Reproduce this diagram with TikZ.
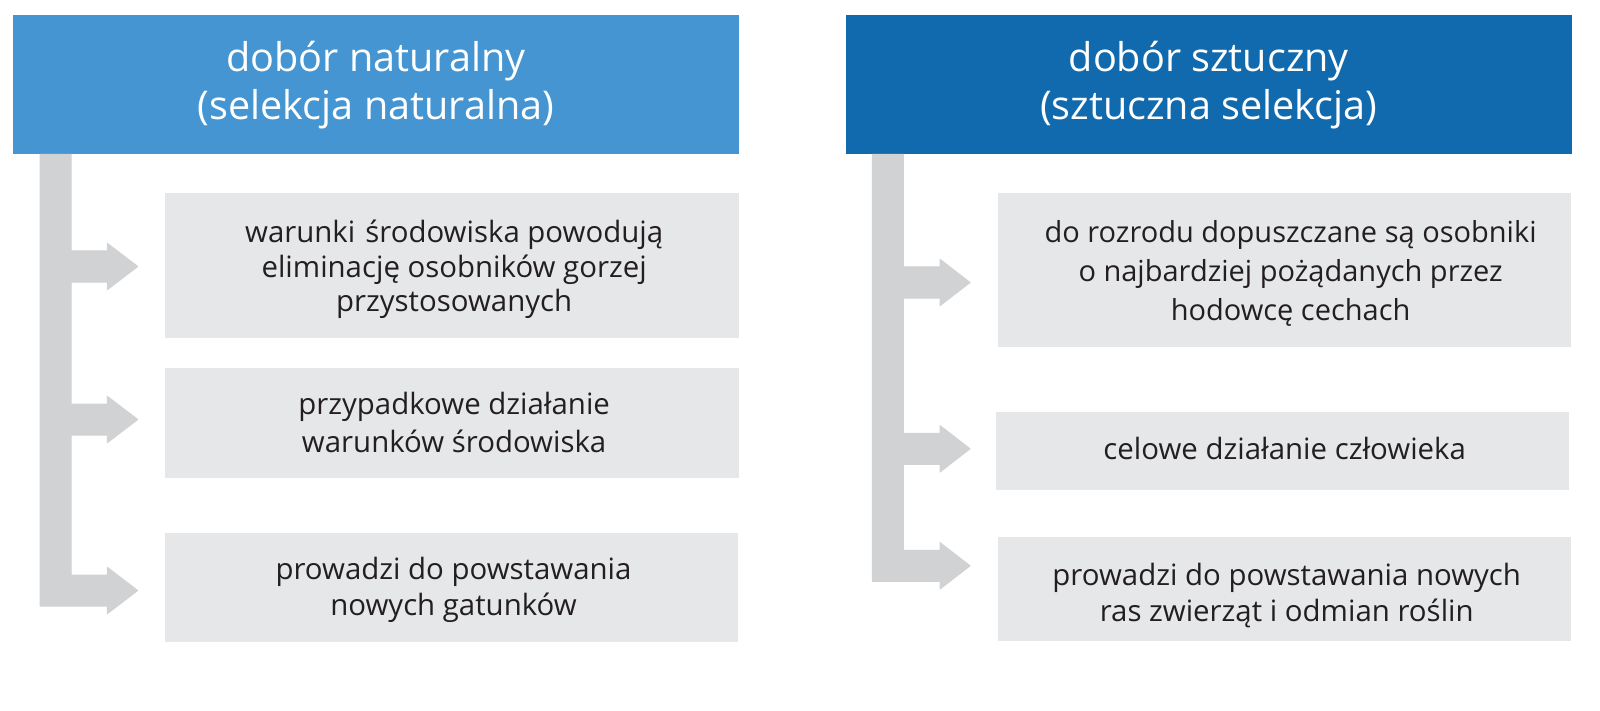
\documentclass[tikz,border=0pt]{standalone}
\usepackage{fontspec}
\setmainfont{Open Sans}
\definecolor{hdrA}{HTML}{4495D1}
\definecolor{hdrB}{HTML}{116AAD}
\definecolor{boxgray}{HTML}{E6E7E9}
\definecolor{arrgray}{HTML}{D1D2D4}
\definecolor{txt}{HTML}{231F20}
\begin{document}
\begin{tikzpicture}[x=0.5pt,y=-0.5pt,
  hdr/.style={inner sep=0pt,align=center,text=white,minimum width=362.75pt,minimum height=69.75pt,
    font=\fontsize{19.8pt}{24pt}\selectfont},
  itembox/.style={fill=boxgray,inner sep=0pt,minimum width=286.7pt},
  itemtext/.style={inner sep=0pt,align=center,text=txt,xshift=1pt},
  bracket/.style={fill=arrgray,draw=arrgray,line width=0.5pt,line join=round}]
\useasboundingbox (0,0) rectangle (1600,711);
\fill[white] (0,0) rectangle (1600,711);
% headers
\node[hdr,fill=hdrA] (hl) at (376,84.75) {dobór naturalny\\(selekcja naturalna)};
\node[hdr,fill=hdrB] (hr) at (1208.8,84.75) {dobór sztuczny\\(sztuczna selekcja)};
% left boxes
\node[itembox,minimum height=72.15pt] (l1) at (452.15,265.65) {};
\node[itemtext,yshift=-2pt,font=\fontsize{14.7pt}{17.3pt}\selectfont] (l1t) at (l1.center)
  {warunki\hspace{0.08em} środowiska powodują\\eliminację osobników gorzej\\przystosowanych};
\node[itembox,minimum height=55.05pt] (l2) at (452.15,422.55) {};
\node[itemtext,font=\fontsize{14.7pt}{19pt}\selectfont] (l2t) at (l2.center)
  {przypadkowe działanie\\warunków środowiska};
\node[itembox,minimum height=54.25pt] (l3) at (451.5,587.55) {};
\node[itemtext,yshift=-1pt,font=\fontsize{14.7pt}{18pt}\selectfont] (l3t) at (l3.center)
  {prowadzi do powstawania\\nowych gatunków};
% right boxes
\node[itembox,minimum height=76.9pt] (r1) at (1284.6,270.4) {};
\node[itemtext,xshift=2pt,yshift=-1.5pt,font=\fontsize{14.5pt}{19.5pt}\selectfont] (r1t) at (r1.center)
  {do rozrodu dopuszczane są osobniki\\o najbardziej pożądanych przez\\hodowcę cechach};
\node[itembox,minimum height=38.75pt] (r2) at (1282.7,450.75) {};
\node[itemtext,yshift=1pt,font=\fontsize{14.7pt}{17.3pt}\selectfont] (r2t) at (r2.center)
  {celowe działanie człowieka};
\node[itembox,minimum height=52.05pt] (r3) at (1284.7,588.75) {};
\node[itemtext,yshift=-3.3pt,font=\fontsize{14.7pt}{18pt}\selectfont] (r3t) at (r3.center)
  {prowadzi do powstawania nowych\\ras zwierząt i odmian roślin};
% left bracket arrows
\path[bracket] (40,154.5) -- (71,154.5)
  -- (71,251) -- (107.3,251) -- (107.3,243.3) -- (137.7,266.5) -- (107.3,289.7) -- (107.3,282) -- (71,282)
  -- (71,404) -- (107.3,404) -- (107.3,396.3) -- (137.7,419.5) -- (107.3,442.7) -- (107.3,435) -- (71,435)
  -- (71,575) -- (107.3,575) -- (107.3,567.3) -- (137.7,590.5) -- (107.3,613.7) -- (107.3,606)
  -- (40,606) -- cycle;
% right bracket arrows
\path[bracket] (872.3,154.5) -- (903.3,154.5)
  -- (903.3,267) -- (940,267) -- (940,259.3) -- (970,282.5) -- (940,305.7) -- (940,298) -- (903.3,298)
  -- (903.3,433.3) -- (940,433.3) -- (940,425.6) -- (970,448.8) -- (940,472) -- (940,464.3) -- (903.3,464.3)
  -- (903.3,550.3) -- (940,550.3) -- (940,542.6) -- (970,565.8) -- (940,589) -- (940,581.3)
  -- (872.3,581.3) -- cycle;
\end{tikzpicture}
\end{document}
